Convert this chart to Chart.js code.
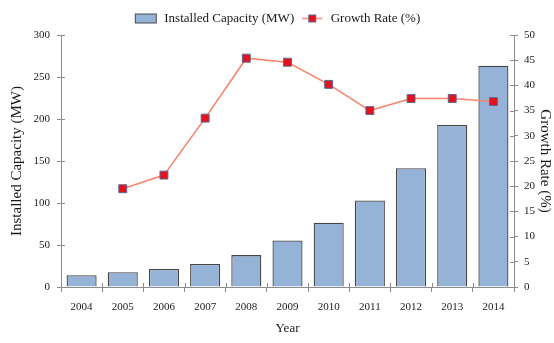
<!DOCTYPE html>
<html>
<head>
<meta charset="utf-8">
<script src="https://cdn.jsdelivr.net/npm/chart.js@4"></script>
<style>
  html, body { margin: 0; padding: 0; background: #fff; }
  #wrap { width: 554px; height: 343px; }
</style>
</head>
<body>
<div id="wrap"><canvas id="myChart" width="554" height="343"></canvas></div>
<script>
// data
const years = ['2004', '2005', '2006', '2007', '2008', '2009', '2010', '2011', '2012', '2013', '2014'];
const capacity = [14, 17.5, 21.5, 27.5, 38, 55.5, 76.5, 103, 141.5, 193, 263.5];
const growth = [null, 19.5, 22.2, 33.5, 45.4, 44.6, 40.2, 35.0, 37.4, 37.4, 36.8];
const capTicks = [0, 50, 100, 150, 200, 250, 300];
const rateTicks = [0, 5, 10, 15, 20, 25, 30, 35, 40, 45, 50];

const serif = "'Liberation Serif', 'DejaVu Serif', serif";
const axisGray = '#8c8c8c';
const textColor = '#1a1a1a';

// legend swatches (bar box and line with square marker)
const makeSwatch = (kind) => {
  const c = document.createElement('canvas');
  c.width = 24; c.height = 12;
  const g = c.getContext('2d');
  if (kind === 'bar') {
    g.fillStyle = '#95b3d7';
    g.fillRect(1, 1.5, 22, 9);
    g.strokeStyle = '#4a4a4a';
    g.lineWidth = 1;
    g.strokeRect(1.5, 1.5, 21, 9);
  } else {
    g.strokeStyle = '#f5866e';
    g.lineWidth = 1.5;
    g.beginPath(); g.moveTo(2, 6); g.lineTo(22, 6); g.stroke();
    g.fillStyle = '#e3121c';
    g.fillRect(8, 2, 8, 8);
    g.strokeStyle = '#5a6a94';
    g.lineWidth = 1;
    g.strokeRect(8.5, 2.5, 7, 7);
  }
  return c;
};
const swatches = [makeSwatch('bar'), makeSwatch('line')];

// short ticks on the inner side of each axis
const innerTicks = {
  id: 'innerTicks',
  afterDraw(chart) {
    const ctx = chart.ctx;
    const { y, y1, x } = chart.scales;
    ctx.save();
    ctx.strokeStyle = axisGray;
    ctx.lineWidth = 1;
    ctx.beginPath();
    capTicks.forEach(v => {
      const py = Math.round(y.getPixelForValue(v)) + 0.5;
      ctx.moveTo(y.right, py); ctx.lineTo(y.right + 4, py);
    });
    rateTicks.forEach(v => {
      const py = Math.round(y1.getPixelForValue(v)) + 0.5;
      ctx.moveTo(y1.left - 4, py); ctx.lineTo(y1.left, py);
    });
    for (let i = 1; i < years.length; i++) {
      const px = Math.round((x.getPixelForTick(i - 1) + x.getPixelForTick(i)) / 2) + 0.5;
      ctx.moveTo(px, x.top); ctx.lineTo(px, x.top - 4);
    }
    ctx.stroke();
    ctx.restore();
  }
};

const ctx = document.getElementById('myChart');

const myChart = new Chart(ctx, {
  data: {
    labels: years,
    datasets: [
      {
        type: 'line',
        label: 'Growth Rate (%)',
        data: growth,
        yAxisID: 'y1',
        borderColor: '#f5866e',
        borderWidth: 1.6,
        tension: 0,
        pointStyle: 'rect',
        pointRadius: 5.6,
        pointBackgroundColor: '#e3121c',
        pointBorderColor: '#5a6a94',
        pointBorderWidth: 1,
        order: 1
      },
      {
        type: 'bar',
        label: 'Installed Capacity (MW)',
        data: capacity,
        yAxisID: 'y',
        backgroundColor: '#95b3d7',
        borderColor: '#454545',
        borderWidth: 1.3,
        categoryPercentage: 1,
        barPercentage: 0.73,
        order: 2
      }
    ]
  },
  options: {
    responsive: false,
    animation: false,
    layout: { padding: { top: 6, left: 0, right: 0, bottom: 0 } },
    plugins: {
      tooltip: { enabled: false },
      legend: {
        position: 'top',
        labels: {
          font: { family: serif, size: 13 },
          color: textColor,
          usePointStyle: true,
          pointStyleWidth: 24,
          boxHeight: 12,
          padding: 6,
          generateLabels: (chart) => [
            { text: 'Installed Capacity (MW)', pointStyle: swatches[0], datasetIndex: 1, lineWidth: 0, fontColor: textColor },
            { text: 'Growth Rate (%)', pointStyle: swatches[1], datasetIndex: 0, lineWidth: 0, fontColor: textColor }
          ]
        }
      }
    },
    scales: {
      x: {
        offset: true,
        grid: { display: true, drawOnChartArea: false, offset: true, color: axisGray, tickLength: 5 },
        border: { color: axisGray },
        ticks: { color: textColor, font: { family: serif, size: 11 }, maxRotation: 0, padding: 9 },
        title: { display: true, text: 'Year', color: textColor, font: { family: serif, size: 13 }, padding: { top: 0, bottom: 7 } },
        afterFit: (scale) => { scale.height = 56; }
      },
      y: {
        position: 'left',
        min: 0, max: 300,
        afterBuildTicks: (scale) => { scale.ticks = capTicks.map(v => ({ value: v })); },
        grid: { drawOnChartArea: false, color: axisGray, tickLength: 4 },
        border: { color: axisGray },
        ticks: { color: textColor, font: { family: serif, size: 11 }, padding: 7 },
        title: { display: true, text: 'Installed Capacity (MW)', color: textColor, font: { family: serif, size: 15 }, padding: { top: 8, bottom: 0 } },
        afterFit: (scale) => { scale.width = 61; }
      },
      y1: {
        position: 'right',
        min: 0, max: 50,
        afterBuildTicks: (scale) => { scale.ticks = rateTicks.map(v => ({ value: v })); },
        grid: { drawOnChartArea: false, color: axisGray, tickLength: 4 },
        border: { color: axisGray },
        ticks: { color: textColor, font: { family: serif, size: 11 }, padding: 6 },
        title: { display: true, text: 'Growth Rate (%)', color: textColor, font: { family: serif, size: 15 }, padding: { top: 0, bottom: 0 } },
        afterFit: (scale) => { scale.width = 40; }
      }
    }
  },
  plugins: [innerTicks]
});
</script>
</body>
</html>
